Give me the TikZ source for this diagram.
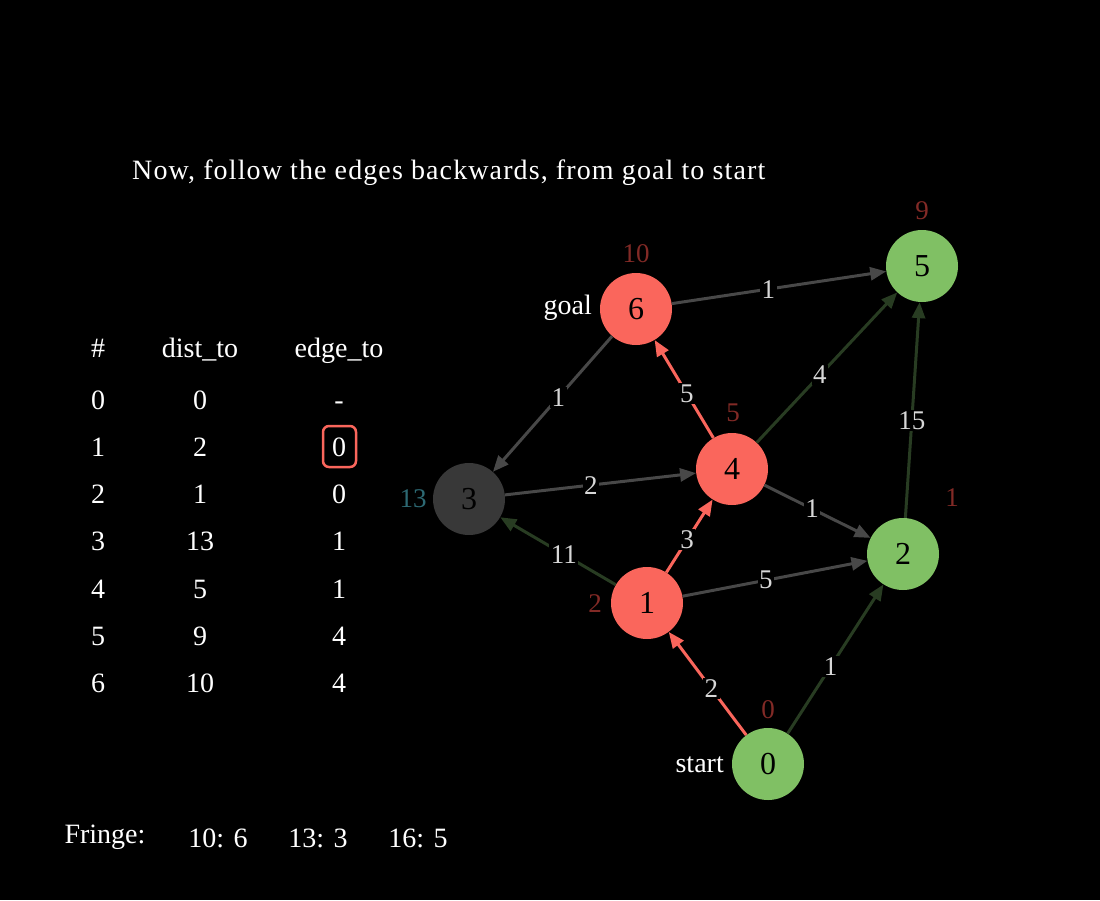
\documentclass[tikz,border=0pt]{standalone}
\usepackage{fontspec}
\setmainfont{Liberation Serif}
\usepackage{xcolor}
\usepackage{tikz}
\usetikzlibrary{arrows.meta}

\definecolor{nodered}{RGB}{250,102,92}
\definecolor{nodegreen}{RGB}{128,192,100}
\definecolor{nodegray}{RGB}{56,56,56}
\definecolor{edgegray}{RGB}{72,72,72}
\definecolor{edgegreen}{RGB}{40,60,34}
\definecolor{distred}{RGB}{130,42,38}
\definecolor{distteal}{RGB}{45,105,115}
\definecolor{labelgray}{RGB}{215,215,215}

\tikzset{
    vertex/.style={circle, minimum size=72pt, inner sep=0pt, text=black, font=\fontsize{32}{34}\selectfont},
    txt/.style={text=white, inner sep=0pt, anchor=base, font=\fontsize{28}{30}\selectfont},
    dist/.style={text=distred, inner sep=0pt, font=\fontsize{27}{30}\selectfont},
    elabel/.style={pos=0.45, fill=black, text=labelgray, inner sep=1.5pt, font=\fontsize{27}{30}\selectfont},
    wedge/.style={line width=3pt, -{Triangle[length=16pt,width=13pt]}},
    gedge/.style={wedge, edgegray},
    tedge/.style={wedge, edgegreen},
    pedge/.style={wedge, nodered},
}

\begin{document}
\begin{tikzpicture}[x=1pt, y=-1pt]
        \fill [black] (0, 0) rectangle (1100, 900);
        \useasboundingbox (0, 0) rectangle (1100, 900);

        % title
        \node [txt, anchor=base west, font=\fontsize{28}{30}\selectfont\addfontfeature{LetterSpace=4}] (title) at (132, 179) {Now, follow the edges backwards, from goal to start};

        % table
        \node [txt] (hnum) at (98, 357) {\#};
        \node [txt] (hdist) at (200, 357) {dist\_to};
        \node [txt] (hedge) at (339, 357) {edge\_to};
        \foreach \i/\d/\e in {0/0/-, 1/2/0, 2/1/0, 3/13/1, 4/5/1, 5/9/4, 6/10/4}{
            \node [txt] (n\i) at (98, {409 + 47.3*\i}) {\i};
            \node [txt] (d\i) at (200, {409 + 47.3*\i}) {\d};
            \node [txt] (e\i) at (339, {409 + 47.3*\i}) {\e};
        }
        \node [draw=nodered, line width=2.5pt, rounded corners=6pt, minimum width=33pt, minimum height=41pt] (mark) at (339.5, 446.5) {};

        % fringe
        \node [txt] (fringe) at (105, 843) {Fringe:};
        \node [txt] (f1) at (218, 847) {10: 6};
        \node [txt] (f2) at (318, 847) {13: 3};
        \node [txt] (f3) at (418, 847) {16: 5};

        % graph
        \node [vertex, fill=nodegreen] (v0) at (768, 764) {0};
        \node [vertex, fill=nodered] (v1) at (647, 603) {1};
        \node [vertex, fill=nodegreen] (v2) at (903, 554) {2};
        \node [vertex, fill=nodegray] (v3) at (469, 499) {3};
        \node [vertex, fill=nodered] (v4) at (732, 469) {4};
        \node [vertex, fill=nodegreen] (v5) at (922, 266) {5};
        \node [vertex, fill=nodered] (v6) at (636, 309) {6};

        \node [txt, anchor=east] (goal) at (592, 308) {goal};
        \node [txt, anchor=east] (start) at (724, 765) {start};

        \node [dist] (dist0) at (768, 710) {0};
        \node [dist] (dist1) at (595, 604) {2};
        \node [dist] (dist2) at (952, 498) {1};
        \node [dist, text=distteal] (dist3) at (413, 499) {13};
        \node [dist] (dist4) at (733, 413) {5};
        \node [dist] (dist5) at (922, 211) {9};
        \node [dist] (dist6) at (636, 254) {10};

        \draw [gedge] (v6) -- node [elabel] {1} (v3);
        \draw [gedge] (v6) -- node [elabel] {1} (v5);
        \draw [gedge] (v3) -- node [elabel] {2} (v4);
        \draw [pedge] (v4) -- node [elabel] {5} (v6);
        \draw [tedge] (v4) -- node [elabel] {4} (v5);
        \draw [gedge] (v4) -- node [elabel] {1} (v2);
        \draw [tedge] (v1) -- node [elabel] {11} (v3);
        \draw [pedge] (v1) -- node [elabel] {3} (v4);
        \draw [gedge] (v1) -- node [elabel] {5} (v2);
        \draw [pedge] (v0) -- node [elabel] {2} (v1);
        \draw [tedge] (v0) -- node [elabel] {1} (v2);
        \draw [tedge] (v2) -- node [elabel] {15} (v5);
    \end{tikzpicture}
\end{document}
